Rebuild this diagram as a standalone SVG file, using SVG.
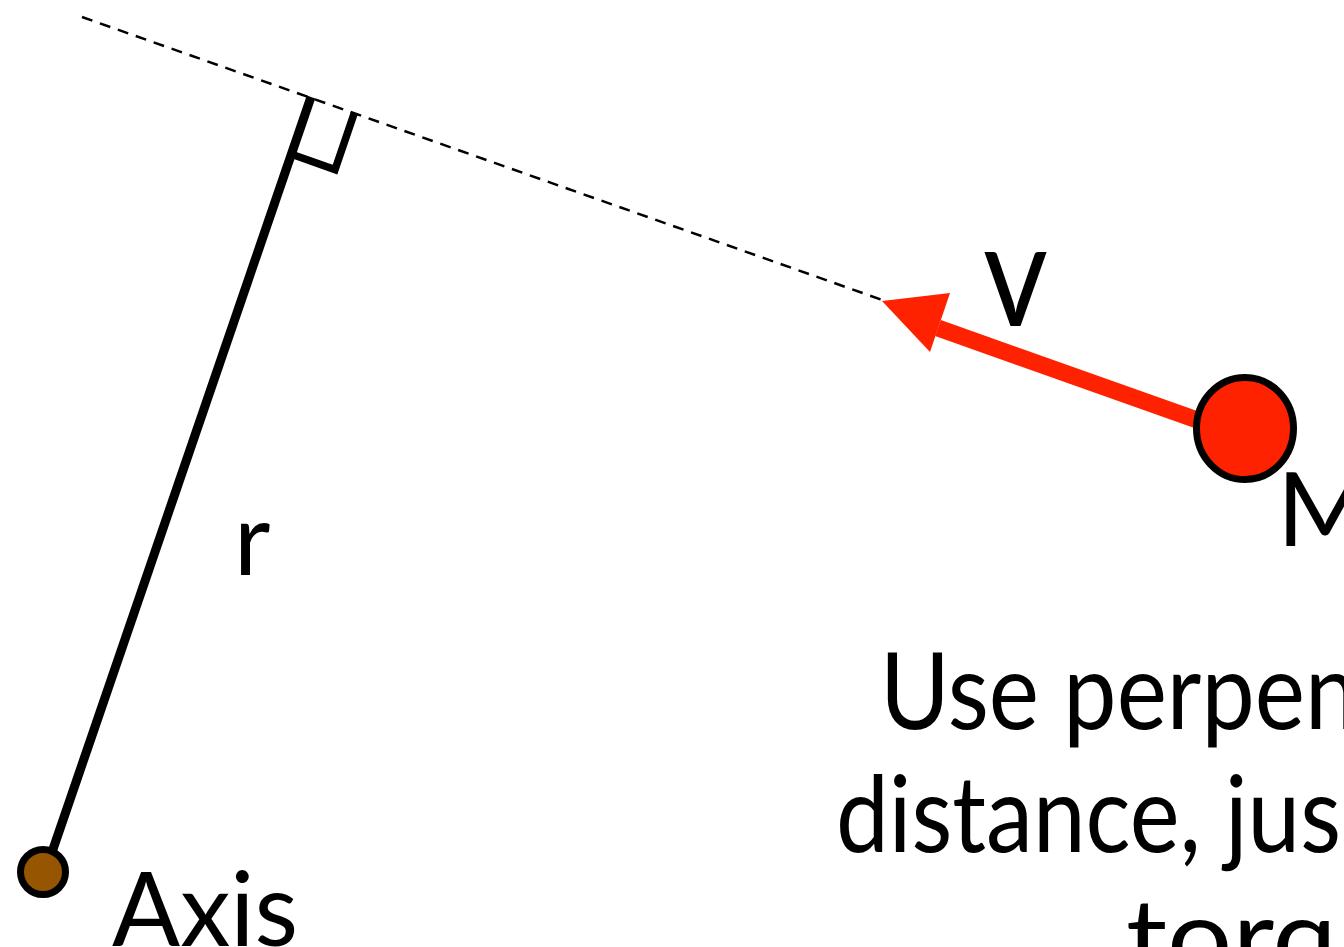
<svg xmlns="http://www.w3.org/2000/svg" width="1344" height="947" viewBox="0 0 1344 947">
<style>
.t{font-family:"Lato","Open Sans","DejaVu Sans",sans-serif;fill:#000}
.blk{stroke:#000;fill:none}
</style>
<rect width="1344" height="947" fill="#fff"/>
<g id="connectors">
<line id="dashed" x1="82" y1="17" x2="888" y2="302" class="blk" stroke-width="2.5" stroke-dasharray="11 8"/>
<line id="r-line" x1="311" y1="97" x2="50" y2="858" class="blk" stroke-width="9"/>
<polyline id="right-angle" points="291.6,154.3 335,169.6 354.4,112.8" class="blk" stroke-width="7.5" stroke-linejoin="miter"/>
<g id="velocity">
<line x1="1200" y1="421" x2="938" y2="328" stroke="#ff2200" stroke-width="17"/>
<polygon points="882,301 950,293 930,352" fill="#ff2200"/>
</g>
</g>
<g id="mass">
<ellipse cx="1245" cy="428.5" rx="48.5" ry="51" fill="#ff2200" stroke="#000" stroke-width="7"/>
<text class="t" x="1277" y="546" font-size="103">M</text>
</g>
<g id="axis">
<circle cx="43" cy="872" r="22.5" fill="#965500" stroke="#000" stroke-width="7"/>
<text class="t" x="112" y="946" font-size="103" textLength="186" lengthAdjust="spacingAndGlyphs">Axis</text>
</g>
<g id="labels">
<text class="t" x="234" y="575" font-size="100">r</text>
<text class="t" x="983" y="326" font-size="145" textLength="65" lengthAdjust="spacingAndGlyphs">v</text>
<text class="t" x="880" y="729" font-size="106" textLength="478" lengthAdjust="spacingAndGlyphs">Use perpen</text>
<text class="t" x="836" y="852" font-size="106" textLength="505" lengthAdjust="spacingAndGlyphs">distance, jus</text>
<text class="t" x="1126" y="975" font-size="106" textLength="275" lengthAdjust="spacingAndGlyphs">torqu</text>
</g>
</svg>
